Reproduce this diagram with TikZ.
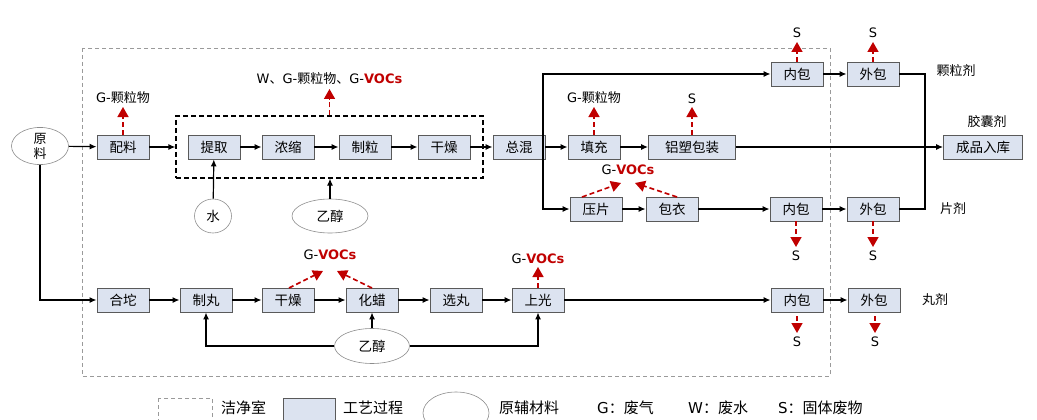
\documentclass[tikz,border=0pt]{standalone}
\usepackage{fontspec}
\setmainfont{Noto Sans CJK SC}
\newfontfamily\latn{DejaVu Sans}
\usetikzlibrary{shapes.geometric, arrows.meta, positioning, calc}
\definecolor{colBoxFill}{HTML}{DCE3F0}
\definecolor{colBoxBdr} {HTML}{5A5A5A}
\definecolor{colEmit}   {HTML}{C00000}
\definecolor{colRoom}   {HTML}{9A9A9A}
\newcommand{\gvoc}{{\latn G-}{\latn\bfseries\color{colEmit}VOCs}}
\newcommand{\gpart}{{\latn G-}颗粒物}
\tikzset{
  proc/.style={draw=colBoxBdr, fill=colBoxFill, line width=0.9pt, minimum width=52pt,
    minimum height=24pt, inner sep=0pt, font=\fontsize{13.5}{14}\selectfont},
  raw/.style={draw=black!45, ellipse, line width=0.6pt, inner sep=0pt,
    font=\fontsize{13.5}{14}\selectfont},
  lbl/.style={inner sep=0pt, font=\fontsize{13}{14}\selectfont},
  flow/.style={line width=1.2pt, -{Latex[length=7pt,width=6pt]}},
  link/.style={line width=1.2pt},
  emit/.style={draw=colEmit, line width=1.6pt, dash pattern=on 5pt off 3pt,
    -{Triangle[length=10pt,width=11pt,fill=colEmit]}},
}
\begin{document}
\begin{tikzpicture}[x=1pt, y=-1pt]
\useasboundingbox (0,0) rectangle (1037,420);
\clip (0,0) rectangle (1037,420);
% clean room
\draw[colRoom, line width=0.8pt, dash pattern=on 4pt off 3pt] (82,48) rectangle (830,376);

% granule / capsule / tablet line
\node[raw, minimum width=57pt, minimum height=35pt, align=center, font=\fontsize{13}{15}\selectfont]
  (yl) at (40,146) {原\\料};
\node[proc] (pl) at (123,147) {配料};
\node[draw, line width=1.2pt, dash pattern=on 5pt off 3pt, minimum width=307pt,
  minimum height=62pt, inner sep=0pt] (tq) at (329.5,147) {};
\node[proc] (tq1) at (214,147) {提取};
\node[proc] (nz) at (288,147) {浓缩};
\node[proc] (zl) at (365,147) {制粒};
\node[proc] (gz) at (444,147) {干燥};
\node[proc] (zh) at (519,147) {总混};
\node[proc] (tc) at (594,147) {填充};
\node[proc, minimum width=87pt] (lsb) at (692,147) {铝塑包装};
\node[proc, minimum width=79pt] (cp) at (983,147) {成品入库};
\node[proc] (nb1) at (797,74) {内包};
\node[proc] (wb1) at (873,74) {外包};
\node[proc] (yp) at (596,209) {压片};
\node[proc] (by) at (672,209) {包衣};
\node[proc] (nb2) at (796,209) {内包};
\node[proc] (wb2) at (873,209) {外包};
\node[raw, minimum width=37pt, minimum height=34pt] (sw) at (213,216) {水};
\node[raw, minimum width=76pt, minimum height=34pt] (yc1) at (330,216) {乙醇};

% pill line
\node[proc] (hd) at (123,300) {合坨};
\node[proc] (zw) at (206,300) {制丸};
\node[proc] (gz2) at (288,300) {干燥};
\node[proc] (hl) at (372,300) {化蜡};
\node[proc] (xw) at (456,300) {选丸};
\node[proc] (sg) at (538,300) {上光};
\node[proc] (nb3) at (797,300) {内包};
\node[proc] (wb3) at (874,300) {外包};
\node[raw, minimum width=75pt, minimum height=35pt] (yc2) at (372,346) {乙醇};

% product labels
\node[lbl] (klj) at (956,71) {颗粒剂};
\node[lbl] (jnj) at (987,122) {胶囊剂};
\node[lbl] (pj) at (953,209) {片剂};
\node[lbl] (wj) at (935,300) {丸剂};

% main flow
\draw[flow] (yl) -- (pl);
\draw[flow] (pl) -- (pl.east -| tq.west);
\draw[flow] (tq1) -- (nz);
\draw[flow] (nz) -- (zl);
\draw[flow] (zl) -- (gz);
\draw[flow] (gz) -- (zh);
\draw[flow] (sw) -- (tq1);
\draw[flow] (yc1) -- (yc1 |- tq.south);
\draw[flow] (zh) -- (tc);
\draw[flow] (tc) -- (lsb);
\draw[flow] (lsb) -- (cp);
\coordinate (sp) at (543,147);
\draw[flow] (sp) |- (nb1);
\draw[flow] (sp) |- (yp);
\draw[flow] (nb1) -- (wb1);
\draw[flow] (yp) -- (by);
\draw[flow] (by) -- (nb2);
\draw[flow] (nb2) -- (wb2);
\coordinate (jn) at (925,147);
\draw[link] (wb1.east) -| (jn);
\draw[link] (wb2.east) -| (jn);

\draw[flow] (yl.south) |- (hd);
\draw[flow] (hd) -- (zw);
\draw[flow] (zw) -- (gz2);
\draw[flow] (gz2) -- (hl);
\draw[flow] (hl) -- (xw);
\draw[flow] (xw) -- (sg);
\draw[flow] (sg) -- (nb3);
\draw[flow] (nb3) -- (wb3);
\draw[flow] (yc2) -- (hl);
\draw[flow] (yc2.west) -| (zw.south);
\draw[flow] (yc2.east) -| (sg.south);

% emissions
\coordinate (e1) at (123,107);
\draw[emit] (pl.north) -- (e1);
\node[lbl, above=3pt of e1] {\gpart};
\coordinate (e2) at (329.5,89);
\draw[emit] (e2 |- tq.north) -- (e2);
\node[lbl, above=4pt of e2] {{\latn W}、\gpart、\gvoc};
\coordinate (e3) at (594,107);
\draw[emit] (tc.north) -- (e3);
\node[lbl, above=3pt of e3] {\gpart};
\coordinate (e4) at (692,107);
\draw[emit] (lsb.north) -- (e4);
\node[lbl, above=3pt of e4] {\latn S};
\coordinate (e5) at (797,42);
\draw[emit] (nb1.north) -- (e5);
\node[lbl, above=4pt of e5] {\latn S};
\coordinate (e6) at (873,42);
\draw[emit] (wb1.north) -- (e6);
\node[lbl, above=4pt of e6] {\latn S};
\coordinate (e7a) at (621,183);
\coordinate (e7b) at (635,183);
\draw[emit] (582,197) -- (e7a);
\draw[emit] (677,197) -- (e7b);
\node[lbl] at (628,170) {\gvoc};
\coordinate (e8) at (796,247);
\draw[emit] (nb2.south) -- (e8);
\node[lbl, below=4pt of e8] {\latn S};
\coordinate (e9) at (873,247);
\draw[emit] (wb2.south) -- (e9);
\node[lbl, below=4pt of e9] {\latn S};
\coordinate (e10a) at (323,271);
\coordinate (e10b) at (337,271);
\draw[emit] (289,288) -- (e10a);
\draw[emit] (372,288) -- (e10b);
\node[lbl] at (330,255) {\gvoc};
\coordinate (e11) at (538,267);
\draw[emit] (sg.north) -- (e11);
\node[lbl, above=3pt of e11] {\gvoc};
\coordinate (e12) at (797,333);
\draw[emit] (797,316) -- (e12);
\node[lbl, below=4pt of e12] {\latn S};
\coordinate (e13) at (875,333);
\draw[emit] (875,316) -- (e13);
\node[lbl, below=4pt of e13] {\latn S};

% legend
\draw[colRoom, line width=0.8pt, dash pattern=on 4pt off 3pt] (158,398) rectangle (212,426);
\node[lbl, anchor=west, font=\fontsize{15}{16}\selectfont] at (221,408) {洁净室};
\draw[colBoxBdr, fill=colBoxFill, line width=0.8pt] (283,398) rectangle (335,426);
\node[lbl, anchor=west, font=\fontsize{15}{16}\selectfont] at (343,408) {工艺过程};
\node[raw, minimum width=66pt, minimum height=42pt] (lgr) at (456,413) {};
\node[lbl, anchor=west, font=\fontsize{15}{16}\selectfont] at (499,408) {原辅材料};
\node[lbl, anchor=west, font=\fontsize{15}{16}\selectfont] at (597,408) {{\latn G}：废气};
\node[lbl, anchor=west, font=\fontsize{15}{16}\selectfont] at (688,408) {{\latn W}：废水};
\node[lbl, anchor=west, font=\fontsize{15}{16}\selectfont] at (778,408) {{\latn S}：固体废物};
\end{tikzpicture}
\end{document}
